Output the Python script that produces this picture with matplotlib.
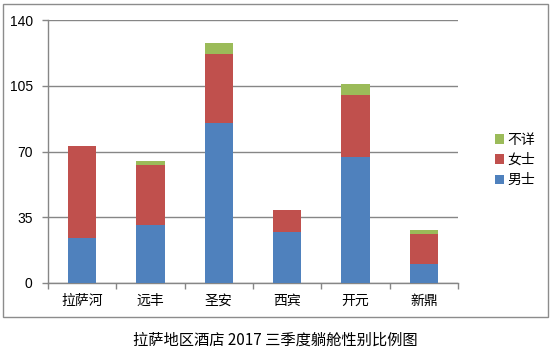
import matplotlib
matplotlib.use("Agg")
import matplotlib.pyplot as plt
from matplotlib.patches import Rectangle
import numpy as np

plt.rcParams['font.family'] = ['Noto Sans CJK SC', 'DejaVu Sans']

categories = ["拉萨河", "远丰", "圣安", "西宾", "开元", "新鼎"]
male = [24, 31, 85, 27, 67, 10]
female = [49, 32, 37, 12, 33, 16]
unknown = [0, 2, 6, 0, 6, 2]
series_names = ["男士", "女士", "不详"]
colors = ["#4F81BD", "#C0504D", "#9BBB59"]
yticks = [0, 35, 70, 105, 140]
caption = "拉萨地区酒店 2017 三季度躺舱性别比例图"

W, H = 550, 354
fig = plt.figure(figsize=(W / 100, H / 100), dpi=100)
fig.patch.set_facecolor("white")

# outer chart border
fig.patches.append(Rectangle((3 / W, (H - 317) / H), 545 / W, 313 / H,
                             transform=fig.transFigure, fill=False,
                             edgecolor="#8c8c8c", linewidth=1.0))

ax = fig.add_axes([48 / W, (H - 283) / H, 410 / W, 263 / H])
x = np.arange(len(categories))
bw = 0.41
male_a = np.array(male)
female_a = np.array(female)
unk_a = np.array(unknown)
b1 = ax.bar(x, male_a, bw, color=colors[0], label=series_names[0], zorder=3)
b2 = ax.bar(x, female_a, bw, bottom=male_a, color=colors[1], label=series_names[1], zorder=3)
b3 = ax.bar(x, unk_a, bw, bottom=male_a + female_a, color=colors[2], label=series_names[2], zorder=3)

ax.set_xlim(-0.5, len(categories) - 0.5)
ax.set_ylim(0, 140)
ax.set_yticks(yticks)
ax.set_yticklabels([str(v) for v in yticks], fontsize=10, family=['Liberation Sans', 'DejaVu Sans'])
ax.yaxis.grid(True, color="#868686", linewidth=1.0, zorder=0)
ax.set_axisbelow(True)

ax.set_xticks(x)
ax.set_xticklabels(categories, fontsize=10)
ax.set_xticks(np.arange(-0.5, len(categories)), minor=True)
ax.tick_params(axis='x', which='major', length=0, pad=8)
ax.tick_params(axis='x', which='minor', length=4, color="#868686", width=1.0)
ax.tick_params(axis='y', length=4, color="#868686", width=1.0, pad=7)

for s in ["top", "right"]:
    ax.spines[s].set_visible(False)
for s in ["left", "bottom"]:
    ax.spines[s].set_color("#868686")
    ax.spines[s].set_linewidth(1.0)

handles = [b3, b2, b1]
leg = fig.legend(handles, [series_names[2], series_names[1], series_names[0]],
                 loc="center left", bbox_to_anchor=(488 / W, (H - 160) / H),
                 frameon=False, fontsize=10, handlelength=0.65, handleheight=0.65,
                 handletextpad=0.25, labelspacing=0.45, borderpad=0)

fig.text(0.5, (H - 340) / H, caption, ha="center", va="center", fontsize=11)

fig.savefig("out.png", dpi=100, facecolor="white")
